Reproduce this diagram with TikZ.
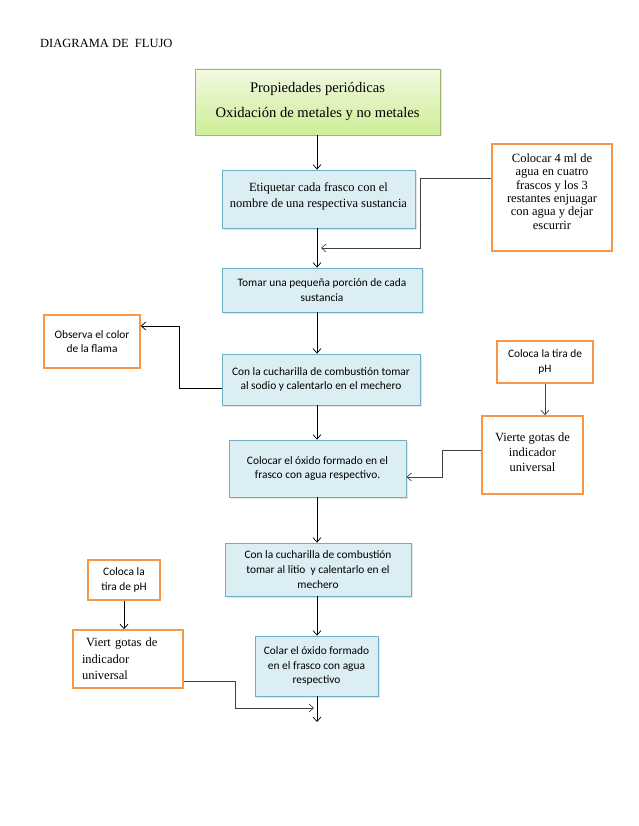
\documentclass[tikz,border=0pt]{standalone}
\usepackage{fontspec}
\setmainfont{Liberation Serif}
\newfontfamily\calibri{Carlito}
\usetikzlibrary{positioning,calc,arrows.meta,shadows}
\definecolor{PasoAzul}{RGB}{219,238,244}
\definecolor{BordeAzul}{RGB}{110,175,195}
\definecolor{NotaNaranja}{RGB}{247,150,70}
\definecolor{VerdeClaro}{RGB}{242,249,225}
\definecolor{VerdeOscuro}{RGB}{205,238,150}
\definecolor{BordeVerde}{RGB}{155,185,110}
\newcommand{\serifT}{\rmfamily\fontsize{12.5}{16.5}\selectfont}
\newcommand{\sansT}{\calibri\fontsize{11.4}{14.7}\selectfont}
\tikzset{
  sombra/.style={drop shadow={shadow xshift=1.5pt,shadow yshift=-1.5pt,opacity=0.2}},
  paso/.style={draw=BordeAzul,fill=PasoAzul,line width=0.8pt,align=center,inner sep=2pt,sombra},
  inicio/.style={draw=BordeVerde,top color=VerdeClaro,bottom color=VerdeOscuro,line width=0.8pt,
    align=center,inner sep=2pt,sombra,font=\rmfamily\fontsize{14.6}{17}\selectfont},
  nota/.style={draw=NotaNaranja,fill=white,line width=1.6pt,align=center,inner sep=2pt},
  flecha/.style={draw=black,line width=0.7pt,-{Straight Barb[length=4.5pt,width=8pt]}},
  lado/.style={flecha,draw=black!75},
}
\tikzset{ser/.style={font=\serifT}, san/.style={font=\sansT}}

\begin{document}
\begin{tikzpicture}[x=1pt,y=-1pt]
\useasboundingbox (0,0) rectangle (638,826);
\coordinate (eje) at (317,0);
\coordinate (j1) at (321,248);
\coordinate (j2) at (314,708);
\coordinate (fin) at (317,722);
% titulo
\node[anchor=base west,inner sep=0pt,ser] (tit) at (40,48) {DIAGRAMA DE\ \ FLUJO};
% columna central
\node[inicio,minimum width=245pt,minimum height=66pt] (ini) at (317.5,102) {Propiedades periódicas\\[8pt]Oxidación de metales y no metales};
\node[paso,ser,minimum width=193pt,minimum height=58pt,text depth=8pt] (b1) at (318.5,199) {Etiquetar cada frasco con el\\nombre de una respectiva sustancia};
\node[paso,san,minimum width=200pt,minimum height=44pt] (b2) at (322,290) {Tomar una pequeña porción de cada\\sustancia};
\node[paso,san,minimum width=198pt,minimum height=51pt] (b3) at (321,379.5) {Con la cucharilla de combustión tomar\\al sodio y calentarlo en el mechero};
\node[paso,san,minimum width=177pt,minimum height=57pt] (b4) at (317.5,468.5) {Colocar el óxido formado en el\\frasco con agua respectivo.};
\node[paso,san,minimum width=186pt,minimum height=53pt] (b5) at (318,569.5) {Con la cucharilla de combustión\\tomar al litio\ \ y calentarlo en el\\mechero};
\node[paso,san,minimum width=123pt,minimum height=60pt] (b6) at (316.5,666) {Colar el óxido formado\\en el frasco con agua\\respectivo};
% notas
\node[nota,font=\rmfamily\fontsize{12.5}{13.4}\selectfont,minimum width=120pt,minimum height=107pt,text depth=12pt] (o1) at (552,197.5) {Colocar 4 ml de\\agua en cuatro\\frascos y los 3\\restantes enjuagar\\con agua y dejar\\escurrir};
\node[nota,san,minimum width=96pt,minimum height=53pt] (o2) at (92,341.5) {Observa el color\\de la flama};
\node[nota,san,minimum width=96pt,minimum height=42pt] (o3) at (545,362) {Coloca la tira de\\pH};
\node[nota,font=\rmfamily\fontsize{12.5}{15}\selectfont,minimum width=101pt,minimum height=78pt,text depth=6pt] (o4) at (532.5,455) {Vierte gotas de\\indicador\\universal};
\node[nota,san,minimum width=72pt,minimum height=40pt] (o5) at (124,580) {Coloca la\\tira de pH};
\node[nota,ser,align=left,text width=92pt,minimum width=110pt,minimum height=58pt] (o6) at (128,659) {\hspace*{4pt}Viert gotas de\\indicador\\universal};
% conectores
\draw[flecha] (ini.south -| eje) -- (b1.north -| eje);
\draw[flecha] (b1.south -| eje) -- (b2.north -| eje);
\draw[lado] ([yshift=19.5pt]o1.west) -- ++(-71,0) |- (j1);
\draw[flecha] (b2.south -| eje) -- (b3.north -| eje);
\draw[flecha] ([yshift=-8.5pt]b3.west) -- ++(-42,0) |- ([yshift=15.5pt]o2.east);
\draw[flecha] (b3.south -| eje) -- (b4.north -| eje);
\draw[lado] (o3.south) -- (o3.south |- o4.north);
\draw[lado] ([yshift=5pt]o4.west) -- ++(-39,0) |- ([yshift=-8.5pt]b4.east);
\draw[flecha] (b4.south -| eje) -- (b5.north -| eje);
\draw[flecha] (b5.south -| eje) -- (b6.north -| eje);
\draw[flecha] (o5.south) -- (o5.south |- o6.north);
\draw[lado] ([yshift=-22pt]o6.east) -- ++(52,0) |- (j2);
\draw[flecha] (b6.south -| eje) -- (fin);
\end{tikzpicture}
\end{document}
